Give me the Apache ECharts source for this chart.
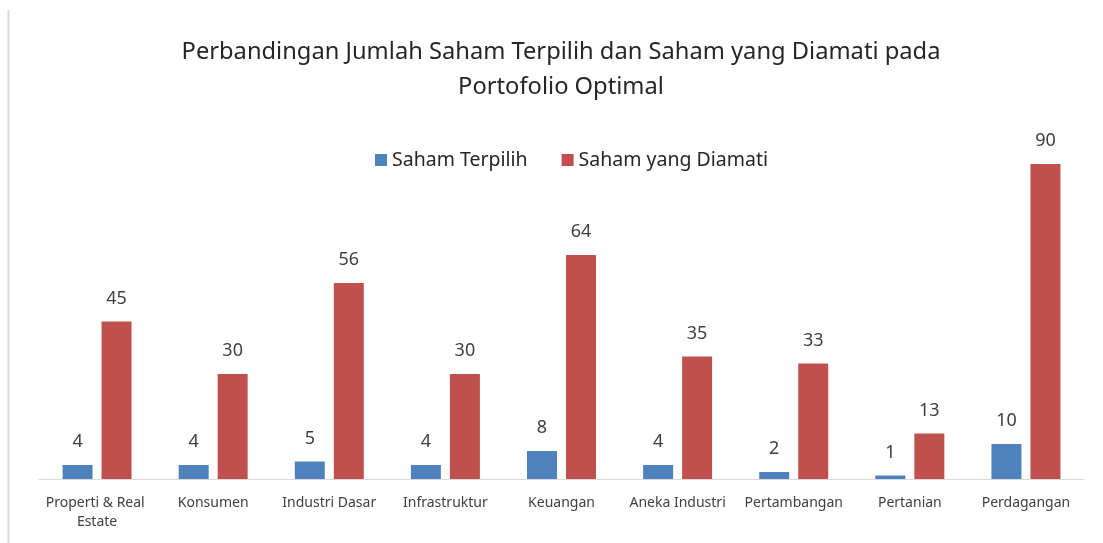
<!DOCTYPE html>
<html><head><meta charset="utf-8">
<script src="https://cdn.jsdelivr.net/npm/echarts@6/dist/echarts.min.js"></script>
<style>html,body{margin:0;padding:0;background:#fff}#c{width:1103px;height:543px}</style>
</head><body><div id="c"></div>
<script>
const categories = ["Properti & Real Estate","Konsumen","Industri Dasar","Infrastruktur","Keuangan","Aneka Industri","Pertambangan","Pertanian","Perdagangan"];
const sahamTerpilih = [4,4,5,4,8,4,2,1,10];
const sahamDiamati = [45,30,56,30,64,35,33,13,90];
const seriesNames = ["Saham Terpilih","Saham yang Diamati"];
const titleText = "Perbandingan Jumlah Saham Terpilih dan Saham yang Diamati pada\nPortofolio Optimal";

const FONT = "Noto Sans";
const chart = echarts.init(document.getElementById('c'), null, {renderer:'canvas'});
const lbl = {show:true, position:'top', distance:14, fontSize:18, color:'#404040', fontFamily:FONT};
chart.setOption({
  animation:false,
  backgroundColor:'#fff',
  textStyle:{fontFamily:FONT},
  title:{text:titleText, left:556, top:30, textAlign:'center', textStyle:{fontSize:23.7, fontWeight:'normal', color:'#262626', fontFamily:FONT, lineHeight:35}},
  legend:{data:seriesNames, top:145, left:370, itemWidth:12, itemHeight:12, itemGap:34, icon:'rect',
    textStyle:{fontSize:19.5, color:'#262626', fontFamily:FONT}},
  grid:{left:39, right:19, top:129, bottom:64, containLabel:false},
  xAxis:{type:'category', data:categories,
    axisLine:{lineStyle:{color:'#d9d9d9', width:1}}, axisTick:{show:false},
    axisLabel:{fontSize:14, color:'#404040', fontFamily:FONT, margin:15, width:112, overflow:'break', lineHeight:19, interval:0}},
  yAxis:{type:'value', min:0, max:100, show:false, splitLine:{show:false}},
  series:[
    {name:seriesNames[0], type:'bar', data:sahamTerpilih, barWidth:30, barGap:'30%', itemStyle:{color:'#4f81bd'}, label:lbl},
    {name:seriesNames[1], type:'bar', data:sahamDiamati, barWidth:30, itemStyle:{color:'#c0504d'}, label:lbl}
  ],
  graphic:[{type:'line', shape:{x1:8.5,y1:10,x2:8.5,y2:543}, style:{stroke:'#d9d9d9', lineWidth:2}}]
});
</script></body></html>
